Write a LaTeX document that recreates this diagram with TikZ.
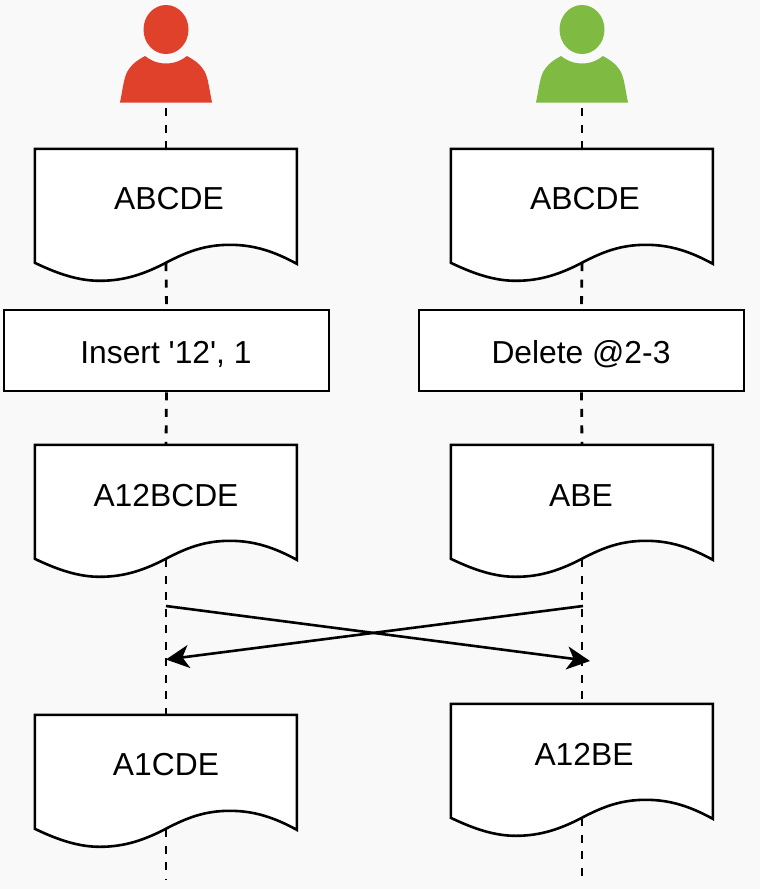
\documentclass[tikz,border=0pt]{standalone}
\usepackage{fontspec}
\newfontfamily\plainsans{Liberation Sans}
\usetikzlibrary{arrows.meta,shapes.geometric}
\definecolor{bgc}{HTML}{F9F9F9}
\definecolor{redp}{HTML}{E0412A}
\definecolor{greenp}{HTML}{7FBB42}
\tikzset{
  lifeline/.style={line width=2.8pt,dash pattern=on 8pt off 8.5pt,black},
  docbody/.style={minimum width=262pt,minimum height=114pt,inner sep=0pt,draw=none},
  opbox/.style={draw=black,line width=2.6pt,fill=white,minimum width=325pt,minimum height=81pt,inner sep=0pt},
  txt/.style={anchor=base,inner sep=0pt,font=\plainsans\fontsize{31.8}{36}\selectfont,text=black},
  msg/.style={line width=2.6pt,black,-{Stealth[length=23pt,width=23pt,inset=6.5pt]}},
  wave/.style={draw=black,line width=2.6pt,fill=white,line join=miter},
  head/.style={ellipse,minimum width=45pt,minimum height=49pt,inner sep=0pt}
}
\newcommand{\docpath}[1]{%
  \path[wave,shift={(#1.north west)}] (0,0) -- (0,114)
    .. controls (25,126) and (45,132) .. (65,132)
    .. controls (90,132) and (110,125) .. (131,114)
    .. controls (152,103) and (170,96) .. (195,96)
    .. controls (220,96) and (240,103) .. (262,115)
    -- (262,0) -- cycle;}
\newcommand{\bust}[2]{%
  \fill[#2,shift={(#1.center)}] (-46,73) .. controls (-43,58.5) and (-42,45.5) .. (-37,39.5)
    .. controls (-33,33.5) and (-28,30.5) .. (-21,26.5)
    .. controls (-16,30.5) and (-9,34) .. (0,34)
    .. controls (9,34) and (16,30.5) .. (21,26.5)
    .. controls (28,30.5) and (33,33.5) .. (37,39.5)
    .. controls (42,45.5) and (43,58.5) .. (46,73) -- cycle;}
\begin{document}
\begin{tikzpicture}[x=1pt,y=-1pt]
\path[use as bounding box,fill=bgc] (0,0) rectangle (760,889);
% persons
\node[head,fill=redp] (pa) at (166,29.5) {};
\node[head,fill=greenp] (pb) at (582,29.5) {};
\bust{pa}{redp}
\bust{pb}{greenp}
\coordinate (pafoot) at (166,108);
\coordinate (pbfoot) at (582,108);
% bodies (positions only)
\node[docbody] (a1) at (166,206) {};
\node[docbody] (b1) at (582,206) {};
\node[opbox] (a2) at (166.5,350.5) {};
\node[opbox] (b2) at (581.5,350.5) {};
\node[docbody] (a3) at (166,502) {};
\node[docbody] (b3) at (582,502) {};
\node[docbody] (a4) at (166,772) {};
\node[docbody] (b4) at (582,761) {};
\coordinate (aend) at (166,880);
\coordinate (bend) at (582,880);
% lifelines
\draw[lifeline] (pafoot) -- (a1.north);
\draw[lifeline] (pbfoot) -- (b1.north);
\draw[lifeline] (a1.south) -- (a2.north);
\draw[lifeline] (b1.south) -- (b2.north);
\draw[lifeline] (a2.south) -- (a3.north);
\draw[lifeline] (b2.south) -- (b3.north);
\draw[lifeline] (a3.south) -- (a4.north);
\draw[lifeline] (b3.south) -- (b4.north);
\draw[lifeline] (a4.south) -- (aend);
\draw[lifeline] (b4.south) -- (bend);
% documents
\docpath{a1}\docpath{b1}\docpath{a3}\docpath{b3}\docpath{a4}\docpath{b4}
% labels
\node[txt] (ta1) at (169,209) {ABCDE};
\node[txt] (tb1) at (585,209) {ABCDE};
\node[txt] (ta2) at (166,363) {Insert '12', 1};
\node[txt] (tb2) at (581,363) {Delete @2-3};
\node[txt] (ta3) at (166,506) {A12BCDE};
\node[txt] (tb3) at (581,506) {ABE};
\node[txt] (ta4) at (166,775) {A1CDE};
\node[txt] (tb4) at (584,765) {A12BE};
% messages
\coordinate (as) at (166,606);
\coordinate (bs) at (583,606);
\coordinate (at) at (166,659.5);
\coordinate (bt) at (590,661);
\draw[msg] (as) -- (bt);
\draw[msg] (bs) -- (at);
\end{tikzpicture}
\end{document}
